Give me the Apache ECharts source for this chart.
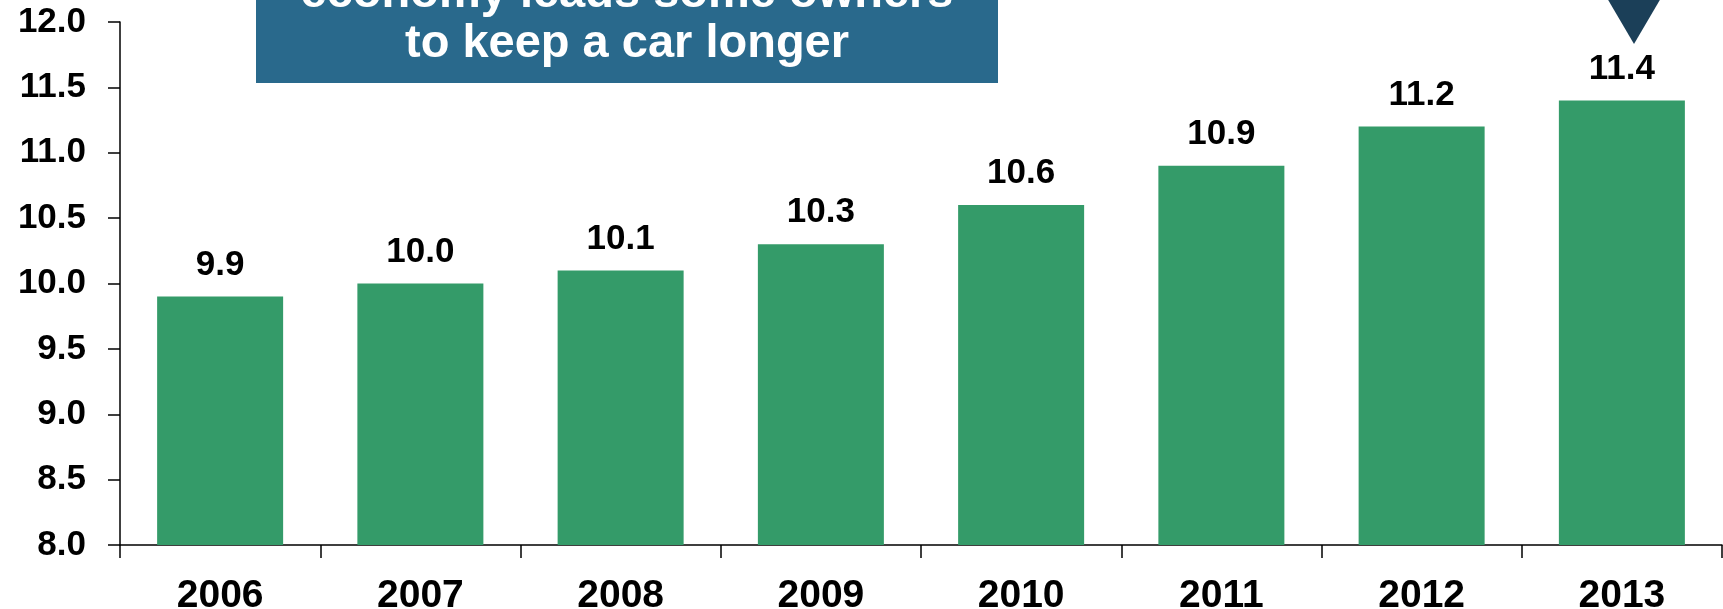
<!DOCTYPE html>
<html>
<head>
<meta charset="utf-8">
<script src="https://cdn.jsdelivr.net/npm/echarts@6/dist/echarts.min.js"></script>
<style>
html,body{margin:0;padding:0;background:#fff;}
#chart{width:1723px;height:609px;}
</style>
</head>
<body>
<div id="chart"></div>
<script>
var years = ['2006','2007','2008','2009','2010','2011','2012','2013'];
var avgAge = [9.9, 10.0, 10.1, 10.3, 10.6, 10.9, 11.2, 11.4];
var calloutLines = ['economy leads some owners', 'to keep a car longer'];

var chart = echarts.init(document.getElementById('chart'), null, {renderer:'canvas'});
var FONT = '"Liberation Sans", Arial, Helvetica, sans-serif';
chart.setOption({
  animation: false,
  backgroundColor: '#ffffff',
  grid: {left: 120, right: 1, top: 22, bottom: 64, containLabel: false, outerBoundsMode: 'none'},
  xAxis: {
    type: 'category',
    data: years,
    boundaryGap: true,
    axisLine: {show: true, lineStyle: {color: '#000', width: 1.5}},
    axisTick: {show: true, alignWithLabel: false, length: 13, lineStyle: {color: '#000', width: 1.5}},
    axisLabel: {interval: 0, margin: 32, color: '#000', fontFamily: FONT, fontWeight: 'bold', fontSize: 39, hideOverlap: false}
  },
  yAxis: {
    type: 'value',
    min: 8, max: 12, interval: 0.5,
    splitLine: {show: false},
    axisLine: {show: true, lineStyle: {color: '#000', width: 1.5}},
    axisTick: {show: true, length: 12, lineStyle: {color: '#000', width: 1.5}},
    axisLabel: {margin: 34, color: '#000', fontFamily: FONT, fontWeight: 'bold', fontSize: 35,
      formatter: function(v){ return v.toFixed(1); }}
  },
  series: [{
    type: 'bar',
    data: avgAge,
    barWidth: 126,
    itemStyle: {color: '#349b69'},
    label: {show: true, position: 'top', distance: 14, color: '#000', fontFamily: FONT, fontWeight: 'bold', fontSize: 35,
      formatter: function(p){ return p.value.toFixed(1); }}
  }],
  graphic: [
    {type: 'rect', shape: {x: 256, y: -60, width: 742, height: 143}, style: {fill: '#29698c'}, z: 10},
    {type: 'text', x: 627, y: -6, style: {text: calloutLines[0], fill: '#fff', font: 'bold 47px ' + FONT, textAlign: 'center', textVerticalAlign: 'middle'}, z: 11},
    {type: 'text', x: 627, y: 44, style: {text: calloutLines[1], fill: '#fff', font: 'bold 47px ' + FONT, textAlign: 'center', textVerticalAlign: 'middle'}, z: 11},
    {type: 'polygon', shape: {points: [[1607, -2], [1661, -2], [1634, 44]]}, style: {fill: '#1b3f58'}, z: 10}
  ]
});
</script>
</body>
</html>
